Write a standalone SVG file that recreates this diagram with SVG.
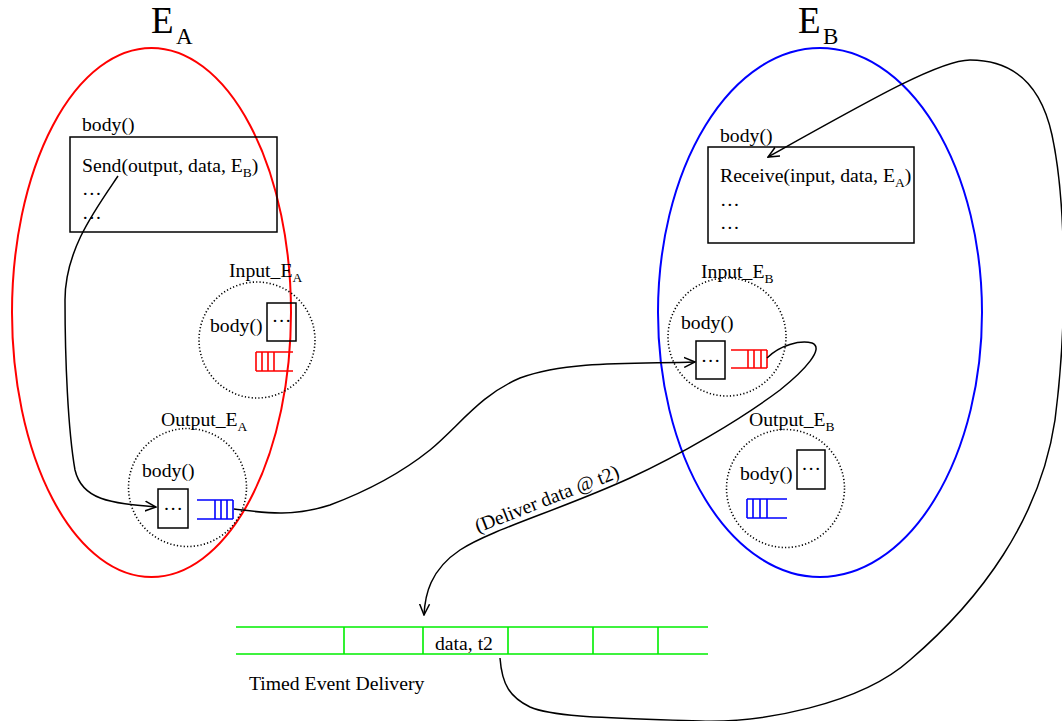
<svg xmlns="http://www.w3.org/2000/svg" width="1062" height="721" viewBox="0 0 1062 721">
<defs>
<style>
text{font-family:"Liberation Serif","Times New Roman",serif;font-size:19.7px;fill:#000}
.big{font-size:37px}
.bigsub{font-size:23px}
.sub{font-size:13.5px}
.box{fill:none;stroke:#000;stroke-width:1.5}
.dot{fill:none;stroke:#000;stroke-width:1.6;stroke-dasharray:1.2 2.2}
.rq{fill:none;stroke:#ff0000;stroke-width:1.6}
.bq{fill:none;stroke:#0000ff;stroke-width:1.6}
.gq{fill:none;stroke:#00ee00;stroke-width:1.6}
.conn{fill:none;stroke:#000;stroke-width:1.5;marker-end:url(#arr)}
</style>
<marker id="arr" viewBox="0 0 12 12" refX="11" refY="6" markerWidth="12" markerHeight="12" markerUnits="userSpaceOnUse" orient="auto">
<path d="M0,1 L11,6 L0,11" fill="none" stroke="#000" stroke-width="1.5"/>
</marker>
</defs>
<rect width="1062" height="721" fill="#fff"/>

<g id="EA">
<ellipse cx="151.5" cy="312.5" rx="139.5" ry="264.5" fill="none" stroke="#ff0000" stroke-width="2"/>
<text x="151" y="33" class="big">E</text><text x="176" y="44" class="bigsub">A</text>
</g>

<g id="EA-body">
<text x="82" y="131">body()</text>
<rect x="70" y="137" width="207" height="95" class="box"/>
<text x="82" y="172">Send(output, data, E<tspan class="sub" dy="5">B</tspan><tspan dy="-5">)</tspan></text>
<text x="82" y="195">…</text>
<text x="82" y="219">…</text>
</g>

<g id="Input_EA">
<circle cx="257" cy="340" r="58" class="dot"/>
<text x="229" y="277">Input_E<tspan class="sub" dy="5">A</tspan></text>
<text x="210" y="332">body()</text>
<rect x="267" y="303" width="29" height="38" class="box"/>
<text x="281.5" y="322" text-anchor="middle">…</text>
<path d="M256,352 H293 M256,371 H293 M256,352 V371 M262,352 V371 M268,352 V371 M274,352 V371" class="rq"/>
</g>

<g id="Output_EA">
<circle cx="187.5" cy="487.5" r="59" class="dot"/>
<text x="161" y="426">Output_E<tspan class="sub" dy="5">A</tspan></text>
<text x="142" y="477">body()</text>
<rect x="158" y="489" width="30" height="39" class="box"/>
<text x="173" y="510" text-anchor="middle">…</text>
<path d="M197,500 H233 M197,519 H233 M215,500 V519 M221,500 V519 M227,500 V519 M233,500 V519" class="bq"/>
</g>

<g id="EB">
<ellipse cx="820" cy="312.5" rx="162" ry="264.5" fill="none" stroke="#0000ff" stroke-width="2"/>
<text x="798" y="33" class="big">E</text><text x="823" y="44" class="bigsub">B</text>
</g>

<g id="EB-body">
<text x="720" y="142">body()</text>
<rect x="708" y="147" width="206" height="96" class="box"/>
<text x="720" y="182">Receive(input, data, E<tspan class="sub" dy="5">A</tspan><tspan dy="-5">)</tspan></text>
<text x="720" y="206">…</text>
<text x="720" y="229">…</text>
</g>

<g id="Input_EB">
<circle cx="727" cy="337" r="59" class="dot"/>
<text x="701" y="278">Input_E<tspan class="sub" dy="5">B</tspan></text>
<text x="681" y="329">body()</text>
<rect x="696" y="341" width="29" height="38" class="box"/>
<text x="710.5" y="362" text-anchor="middle">…</text>
<path d="M731,350 H767 M731,368 H767 M748,350 V368 M754,350 V368 M761,350 V368 M767,350 V368" class="rq"/>
</g>

<g id="Output_EB">
<circle cx="785.5" cy="488.5" r="59" class="dot"/>
<text x="749" y="426">Output_E<tspan class="sub" dy="5">B</tspan></text>
<text x="740" y="480">body()</text>
<rect x="797" y="450" width="28" height="39" class="box"/>
<text x="811" y="470" text-anchor="middle">…</text>
<path d="M747,499 H787 M747,518 H787 M747,499 V518 M753,499 V518 M760,499 V518 M767,499 V518" class="bq"/>
</g>

<g id="TimedEventDelivery">
<path d="M236,627 H708 M236,654 H708 M344,627 V654 M423,627 V654 M508,627 V654 M593,627 V654 M658,627 V654" class="gq"/>
<text x="435" y="650">data, t2</text>
<text x="249" y="690">Timed Event Delivery</text>
</g>

<g id="connectors">
<path class="conn" d="M118,176 C95,210 65,250 65,300 C65,360 68,430 75,470 C82,500 110,503 156,507"/>
<path class="conn" d="M234,509 C260,512 290,518 330,505 C370,490 405,470 430,450 C460,425 480,395 520,378 C570,360 640,364 695,362"/>
<path class="conn" d="M767,358 C780,345 800,340 812,343 C825,348 805,370 780,390 C740,420 680,455 630,478 C560,510 490,530 460,550 C430,570 425,595 424,615"/>
<path class="conn" d="M500,658 C502,685 510,697 530,707 C555,718 620,718 700,721 C760,723 860,705 910,660 C980,600 1040,520 1055,420 C1068,320 1066,200 1052,135 C1040,80 1010,60 970,60 C940,60 870,100 768,157"/>
<text x="478" y="533" transform="rotate(-21.5 478 533)">(Deliver data @ t2)</text>
</g>
</svg>
